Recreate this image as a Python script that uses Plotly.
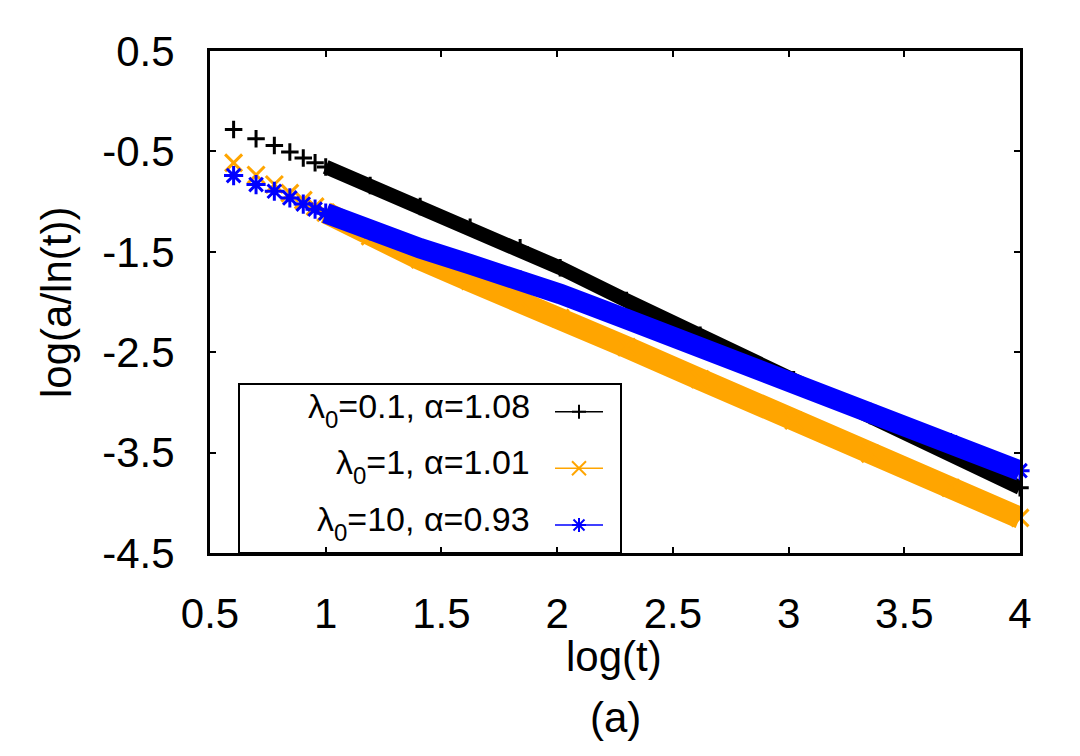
import plotly.graph_objects as go

# ---------------- data ----------------
log_t = [0.602, 0.699, 0.778, 0.845, 0.903, 0.954, 1.000, 1.192, 1.408,
         1.624, 1.840, 2.013, 2.300, 2.618, 3.022, 3.353, 3.700, 4.000]

black = [-0.281, -0.374, -0.440, -0.505, -0.565, -0.613, -0.655, -0.840, -1.050,
         -1.255, -1.460, -1.660, -1.985, -2.330, -2.775, -3.130, -3.500, -3.850]

orange = [-0.614, -0.735, -0.830, -0.915, -0.985, -1.050, -1.110, -1.345, -1.575,
          -1.790, -1.990, -2.160, -2.450, -2.770, -3.180, -3.510, -3.850, -4.150]

blue = [-0.741, -0.830, -0.897, -0.963, -1.025, -1.075, -1.115, -1.290, -1.465,
        -1.625, -1.780, -1.920, -2.170, -2.445, -2.805, -3.100, -3.400, -3.680]

lambda0 = ["0.1", "1", "10"]
alpha = ["1.08", "1.01", "0.93"]

x_ticks = [0.5, 1, 1.5, 2, 2.5, 3, 3.5, 4]
x_tick_labels = ["0.5", "1", "1.5", "2", "2.5", "3", "3.5", "4"]
y_ticks = [-4.5, -3.5, -2.5, -1.5, -0.5, 0.5]
y_tick_labels = ["-4.5", "-3.5", "-2.5", "-1.5", "-0.5", "0.5"]

# ---------------- geometry ----------------
FONT = "Liberation Sans, Arial, Helvetica, sans-serif"
OFF = 8                      # default page margin of the html body
W, H = 1080 - OFF, 756 - OFF
L, R = 210 - OFF, 60
T = 51 - OFF
B = H - (553 - OFF)
PW, PH = W - L - R, H - T - B

def PX(x_page):
    return (x_page - OFF - L) / PW

def PY(y_page):
    return (H - B - (y_page - OFF)) / PH

BAND_START = 6   # from t = 10 on the markers merge into a solid band

styles = [
    dict(y=black, color="#000000", symbol="cross-thin", size=12.5, band=14.5),
    dict(y=orange, color="#FFA500", symbol="x-thin", size=17, band=22),
    dict(y=blue, color="#0000FF", symbol="asterisk", size=16, band=20.5),
]

fig = go.Figure()
for s in styles:
    fig.add_trace(go.Scatter(
        x=log_t[BAND_START:], y=s["y"][BAND_START:], mode="lines",
        line=dict(color=s["color"], width=s["band"]),
        showlegend=False, hoverinfo="skip"))
    fig.add_trace(go.Scatter(
        x=log_t, y=s["y"], mode="markers", cliponaxis=False,
        marker=dict(symbol=s["symbol"], size=s["size"], color=s["color"],
                    line=dict(color=s["color"], width=3)),
        showlegend=False))

# ---------------- hand-drawn gnuplot style key ----------------
shapes = []
annotations = []
shapes.append(dict(type="rect", xref="paper", yref="paper",
                   x0=PX(239), x1=PX(621), y0=PY(553), y1=PY(384),
                   line=dict(color="black", width=2), fillcolor="rgba(0,0,0,0)"))
row_y = [411.7, 468.3, 525.0]
mx = 579
for i, s in enumerate(styles):
    yy = PY(row_y[i])
    c = s["color"]
    shapes.append(dict(type="line", xref="paper", yref="paper",
                       x0=PX(555), x1=PX(603), y0=yy, y1=yy,
                       line=dict(color=c, width=1.5)))
    arms = []
    if s["symbol"] in ("cross-thin", "asterisk"):
        arms += [(-7, 0, 7, 0), (0, -7, 0, 7)]
    if s["symbol"] in ("x-thin", "asterisk"):
        k = 5.5 if s["symbol"] == "asterisk" else 7
        arms += [(-k, -k, k, k), (-k, k, k, -k)]
    for (a0, b0, a1, b1) in arms:
        shapes.append(dict(type="line", xref="paper", yref="paper",
                           xsizemode="pixel", ysizemode="pixel",
                           xanchor=PX(mx), yanchor=yy,
                           x0=a0, x1=a1, y0=b0, y1=b1,
                           line=dict(color=c, width=2)))
    label = ("λ<span style=\"font-size:24px;baseline-shift:-10px\">0</span>"
             "=" + lambda0[i] + ", α=" + alpha[i])
    annotations.append(dict(text=label, xref="paper", yref="paper",
                            x=PX(532), y=PY(row_y[i] - 2), xanchor="right", yanchor="middle",
                            showarrow=False, font=dict(family=FONT, size=34, color="black")))

annotations += [
    dict(text="log(t)", xref="paper", yref="paper", x=PX(614), y=PY(656),
         xanchor="center", yanchor="middle", showarrow=False,
         font=dict(family=FONT, size=42, color="black")),
    dict(text="(a)", xref="paper", yref="paper", x=PX(615), y=PY(717),
         xanchor="center", yanchor="middle", showarrow=False,
         font=dict(family=FONT, size=42, color="black")),
    dict(text="log(a/ln(t))", xref="paper", yref="paper", x=PX(56), y=PY(303),
         xanchor="center", yanchor="middle", textangle=-90, showarrow=False,
         font=dict(family=FONT, size=42, color="black")),
]

axis_common = dict(showline=True, linecolor="black", linewidth=3, mirror="ticks",
                   ticks="inside", ticklen=6, tickwidth=1.5, tickcolor="black",
                   showgrid=False, zeroline=False, automargin=False,
                   tickfont=dict(family=FONT, size=42, color="black"))

fig.update_layout(
    width=W, height=H,
    margin=dict(l=L, r=R, t=T, b=B),
    paper_bgcolor="white", plot_bgcolor="white",
    xaxis=dict(range=[0.5, 4], tickvals=x_ticks, ticktext=x_tick_labels,
               ticklabelstandoff=22, **axis_common),
    yaxis=dict(range=[-4.5, 0.5], tickvals=y_ticks, ticktext=y_tick_labels,
               ticklabelstandoff=24, **axis_common),
    shapes=shapes, annotations=annotations,
    showlegend=False,
)

fig.write_html("out.html")
